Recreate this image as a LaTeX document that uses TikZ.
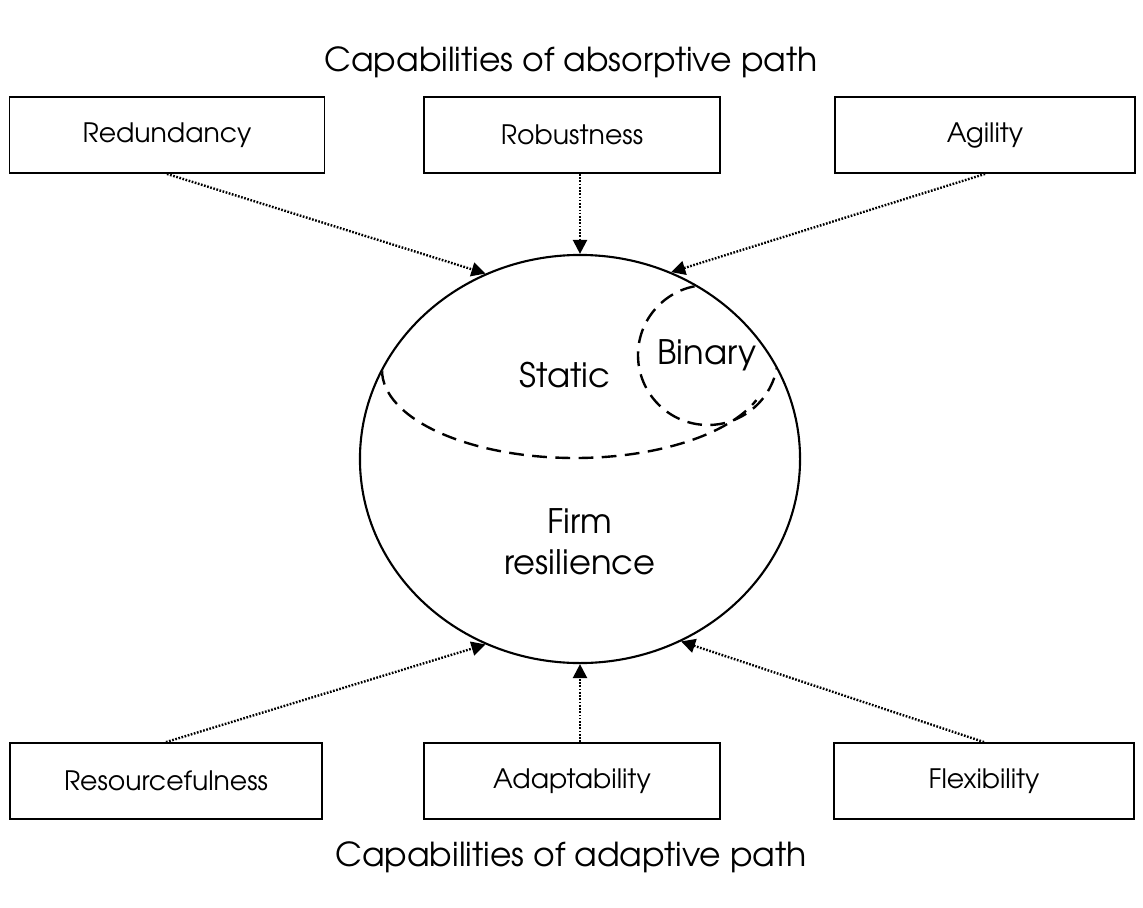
\documentclass[tikz,border=0pt]{standalone}
\usepackage{fontspec}
\setmainfont{TeX Gyre Adventor}
\usepackage{tikz}
\usetikzlibrary{arrows.meta,shapes.geometric}
\tikzset{
  capbox/.style={draw,line width=1.3pt,minimum width=7.5cm,minimum height=1.9cm,font=\fontsize{19}{23}\selectfont},
  pathtitle/.style={font=\fontsize{23.5}{28}\selectfont},
  zone/.style={font=\fontsize{24}{29}\selectfont,align=center},
  capline/.style={line width=1.7pt,dash pattern=on 1.2pt off 1.1pt,-{Triangle[length=10pt,width=10pt]}},
  border/.style={line width=1.7pt,dash pattern=on 10.5pt off 6pt}
}

\begin{document}
\begin{tikzpicture}[x=0.025cm,y=-0.025cm]
  \useasboundingbox (0,0) rectangle (1143,907);
  % titles
  \node[pathtitle] (absorb) at (571,62) {Capabilities of absorptive path};
  \node[pathtitle] (adapt) at (571,857) {Capabilities of adaptive path};
  % absorptive capabilities
  \node[capbox,minimum width=7.875cm] (redundancy) at (167,135) {Redundancy};
  \node[capbox,minimum width=7.4cm] (robustness) at (572,135) {Robustness};
  \node[capbox] (agility) at (985,135) {Agility};
  % adaptive capabilities
  \node[capbox,minimum width=7.8cm] (resource) at (166,781) {Resourcefulness};
  \node[capbox,minimum width=7.4cm] (adaptability) at (572,781) {Adaptability};
  \node[capbox] (flexibility) at (984,781) {Flexibility};
  % firm resilience
  \node[ellipse,draw,line width=1.5pt,minimum width=11cm,minimum height=10.2cm] (firm) at (580,459) {};
  \begin{scope}
    \clip (580,459) ellipse (219 and 203);
    \draw[border] (382,370) arc[start angle=180,end angle=20,x radius=193,y radius=88];
    \draw[border] (708,355) circle (70);
  \end{scope}
  \node[zone] (static) at (565,375) {Static};
  \node[zone] (binary) at (707,355) {Binary};
  \node[zone] (resilience) at (580,542) {Firm\\resilience};
  % connectors
  \draw[capline] (redundancy.south) -- (firm.117);
  \draw[capline] (robustness.south -| firm.north) -- (firm.north);
  \draw[capline] (agility.south) -- (firm.64);
  \draw[capline] (resource.north) -- (firm.243);
  \draw[capline] (adaptability.north -| firm.south) -- (firm.south);
  \draw[capline] (flexibility.north) -- (firm.299);
\end{tikzpicture}
\end{document}
